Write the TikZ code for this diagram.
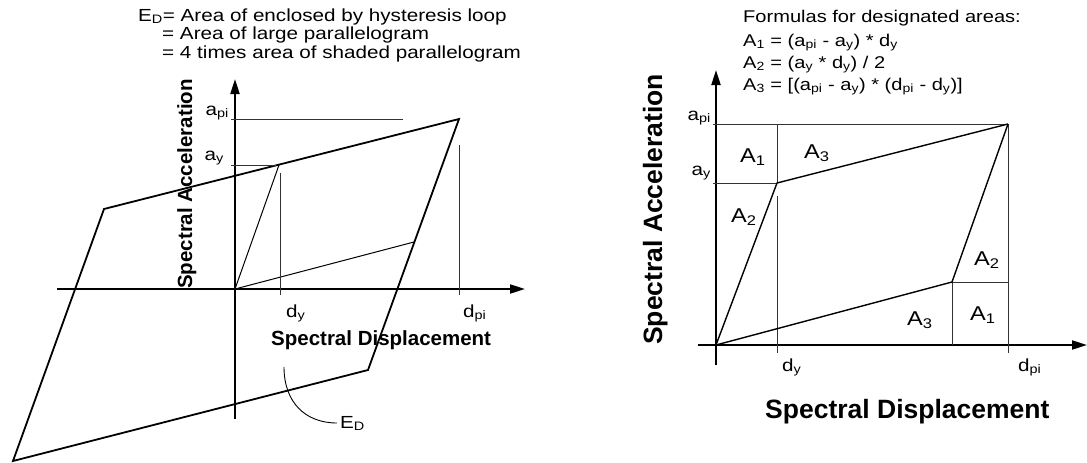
\documentclass[tikz,border=0pt]{standalone}
\usepackage{fontspec}
\setmainfont{Liberation Sans}
\newfontfamily\wfont[FakeStretch=1.18]{Liberation Sans}
\usetikzlibrary{arrows.meta}
\tikzset{
  axis/.style={line width=2pt, -{Triangle[length=15pt,width=9pt]}},
  hyst/.style={line width=1.8pt, line join=miter},
  curve/.style={line width=1.4pt, line join=miter},
  fine/.style={line width=1pt},
  guide/.style={line width=0.8pt, black!80},
  lbl/.style={inner sep=0pt, font=\wfont\fontsize{17.5}{20}\selectfont},
  ttl/.style={inner sep=0pt, font=\wfont\fontsize{17.5}{20}\selectfont},
  frm/.style={inner sep=0pt, font=\wfont\fontsize{17}{20}\selectfont},
  area/.style={inner sep=0pt, font=\wfont\fontsize{20}{22}\selectfont},
  bigl/.style={inner sep=0pt, font=\bfseries\fontsize{20.5}{24}\selectfont},
  bigr/.style={inner sep=0pt, font=\bfseries\fontsize{26.5}{30}\selectfont},
}
\begin{document}
\begin{tikzpicture}[x=1pt,y=-1pt]
\useasboundingbox (0,0) rectangle (1087,463);
% ---------- left chart ----------
\coordinate (O) at (235,289);
\coordinate (UL) at (104,209);
\coordinate (UR) at (459,119);
\coordinate (LR) at (368,370);
\coordinate (LL) at (13,461);
\coordinate (Y) at (279,165);
\coordinate (P) at (414,242);
\coordinate (xs) at (57,289);
\coordinate (xe) at (525,289);
\coordinate (ys) at (235,419);
\coordinate (ye) at (235,79);
\draw[axis] (xs) -- (xe);
\draw[axis] (ys) -- (ye);
\draw[hyst] (UL) -- (UR) -- (LR) -- (LL) -- cycle;
\draw[fine] (O) -- (Y);
\draw[fine] (O) -- (P);
\coordinate (api0) at (231,119); \coordinate (api1) at (403,119);
\coordinate (ay0) at (231,165); \coordinate (ay1) at (276,165);
\coordinate (dy0) at (280,173); \coordinate (dy1) at (280,295);
\coordinate (dp0) at (459,145); \coordinate (dp1) at (459,295);
\draw[guide] (api0) -- (api1);
\draw[guide] (ay0) -- (ay1);
\draw[guide] (dy0) -- (dy1);
\draw[guide] (dp0) -- (dp1);
\node[lbl, anchor=base east] (lapi) at (229,115) {a\textsubscript{pi}};
\node[lbl, anchor=base east] (lay) at (224,160) {a\textsubscript{y}};
\node[lbl, anchor=base west] (ldy) at (286,317) {d\textsubscript{y}};
\node[lbl, anchor=base west] (ldpi) at (463,317) {d\textsubscript{pi}};
\node[bigl, anchor=base west] (lsd) at (271,345) {Spectral Displacement};
\node[bigl, anchor=base west, rotate=90] (lsa) at (192,289) {Spectral Acceleration};
\node[ttl, anchor=base west] (t1) at (138,21) {E\textsubscript{D}= Area of enclosed by hysteresis loop};
\node[ttl, anchor=base west] (t2) at (162,39.5) {= Area of large parallelogram};
\node[ttl, anchor=base west] (t3) at (162,58) {= 4 times area of shaded parallelogram};
\node[lbl, anchor=base west] (ed) at (340,428) {E\textsubscript{D}};
\coordinate (c0) at (284,367);
\coordinate (c1) at (337,423);
\draw[line width=0.9pt] (c0) .. controls (284,402) and (305,423) .. (c1);
% ---------- right chart ----------
\coordinate (O2) at (716,345);
\coordinate (Y2) at (777,183);
\coordinate (A2) at (1008,124);
\coordinate (L2) at (952,282);
\coordinate (x2s) at (698,345);
\coordinate (x2e) at (1087,345);
\coordinate (y2s) at (716,365);
\coordinate (y2e) at (716,70);
\coordinate (g1) at (713,124);
\coordinate (g2) at (713,183);
\coordinate (g3) at (777,124);
\coordinate (g4) at (777,196);
\coordinate (g5) at (777,353);
\coordinate (g6) at (1008,353);
\coordinate (g7) at (1008,282);
\coordinate (g8) at (952,345);
\draw[axis] (x2s) -- (x2e);
\draw[axis] (y2s) -- (y2e);
\draw[guide] (g1) -- (A2);
\draw[guide] (g2) -- (Y2);
\draw[guide] (g3) -- (Y2);
\draw[guide] (g4) -- (g5);
\draw[guide] (A2) -- (g6);
\draw[guide] (L2) -- (g7);
\draw[guide] (L2) -- (g8);
\draw[curve] (O2) -- (Y2) -- (A2);
\draw[curve] (O2) -- (L2) -- (A2);
\node[lbl, anchor=base east] (rapi) at (711,120) {a\textsubscript{pi}};
\node[lbl, anchor=base east] (ray) at (711,175) {a\textsubscript{y}};
\node[lbl, anchor=base west] (rdy) at (782,371) {d\textsubscript{y}};
\node[lbl, anchor=base west] (rdpi) at (1018,371) {d\textsubscript{pi}};
\node[area, anchor=base west] (a1u) at (740,162) {A\textsubscript{1}};
\node[area, anchor=base west] (a3u) at (804,158) {A\textsubscript{3}};
\node[area, anchor=base west] (a2u) at (731,222) {A\textsubscript{2}};
\node[area, anchor=base west] (a2l) at (974,265) {A\textsubscript{2}};
\node[area, anchor=base west] (a1l) at (970,320) {A\textsubscript{1}};
\node[area, anchor=base west] (a3l) at (907,325) {A\textsubscript{3}};
\node[bigr, anchor=base west] (rsd) at (765,418) {Spectral Displacement};
\node[bigr, anchor=base west, rotate=90] (rsa) at (662,345) {Spectral Acceleration};
\node[frm, anchor=base west] (f0) at (743,23) {Formulas for designated areas:};
\node[frm, anchor=base west] (f1) at (743,46) {A\textsubscript{1} = (a\textsubscript{pi} - a\textsubscript{y}) * d\textsubscript{y}};
\node[frm, anchor=base west] (f2) at (743,68) {A\textsubscript{2} = (a\textsubscript{y} * d\textsubscript{y}) / 2};
\node[frm, anchor=base west] (f3) at (743,90) {A\textsubscript{3} = [(a\textsubscript{pi} - a\textsubscript{y}) * (d\textsubscript{pi} - d\textsubscript{y})]};
\end{tikzpicture}
\end{document}
